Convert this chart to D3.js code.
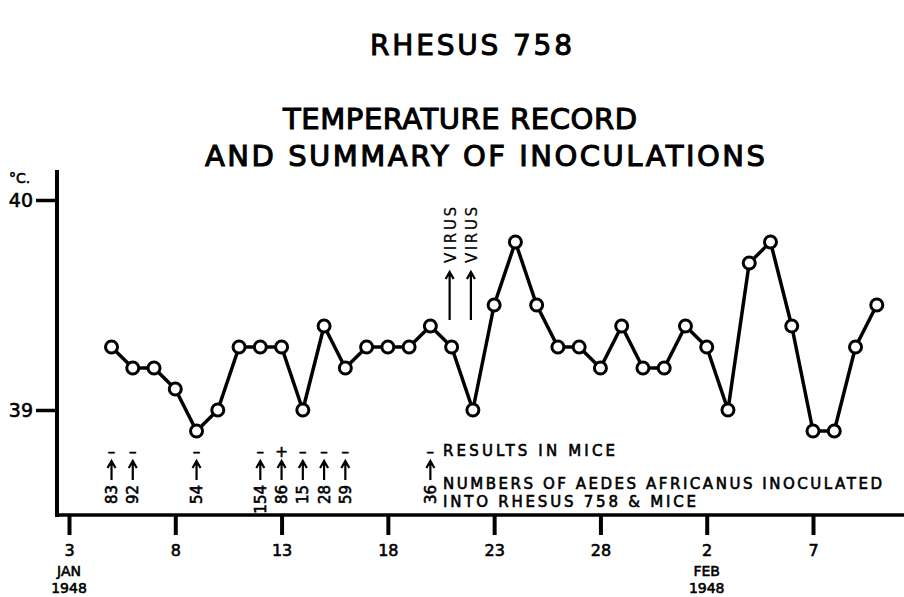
<!DOCTYPE html>
<html>
<head>
<meta charset="utf-8">
<script src="https://cdn.jsdelivr.net/npm/d3@7"></script>
<style>
  body { margin: 0; background: #fff; }
  svg { display: block; }
  text { font-family: "DejaVu Sans", sans-serif; fill: #000; stroke: #000; stroke-width: 0.6px; }
</style>
</head>
<body>
<div id="chart"></div>
<script>
// daily temperature of Rhesus 758, from 5 Jan 1948 to 10 Feb 1948 (deg C)
var temps = [39.3, 39.2, 39.2, 39.1, 38.9, 39.0, 39.3, 39.3, 39.3, 39.0,
             39.4, 39.2, 39.3, 39.3, 39.3, 39.4, 39.3, 39.0, 39.5, 39.8,
             39.5, 39.3, 39.3, 39.2, 39.4, 39.2, 39.2, 39.4, 39.3, 39.0,
             39.7, 39.8, 39.4, 38.9, 38.9, 39.3, 39.5]
var firstDay = new Date(1948, 0, 5)

// inoculations (day of january), numbers of mosquitoes, result in mice
var inocDays = [5, 6, 9, 12, 13, 14, 15, 16, 20]
var inocCounts = ["83", "92", "54", "154", "86", "15", "28", "59", "36"]
var inocResults = ["-", "-", "-", "-", "+", "-", "-", "-", "-"]
var virusDays = [21, 22]

// axis ticks
var tickDays = [3, 8, 13, 18, 23, 28, 33, 38]
var tickLabels = ["3", "8", "13", "18", "23", "28", "2", "7"]
var yTicks = [39, 40]

var width = 904, height = 597

var svg = d3.select("#chart").append("svg")
  .attr("width", width)
  .attr("height", height)

var jan = function(d) { return new Date(1948, 0, d) }

var x = d3.scaleTime()
  .domain([jan(3), jan(38)])
  .range([69, 813])

var y = d3.scaleLinear()
  .domain([39, 40])
  .range([410, 200])

var axisY = 515, axisX = 57

// upward arrow drawn from the bottom point, length len
var arrow = function(y0, len) {
  return "M0," + y0 + "V" + (y0 - len) +
    "M-4," + (y0 - len + 7) + "L0," + (y0 - len) + "L4," + (y0 - len + 7)
}

// text with spacing stretched to a given width
var label = function(t, x0, y0, size, len, anchor) {
  return svg.append("text").attr("x", x0).attr("y", y0)
    .attr("text-anchor", anchor || "start")
    .attr("font-size", size)
    .attr("textLength", len).attr("lengthAdjust", "spacing")
    .text(t)
}

// titles
label("RHESUS 758", 471, 55, 28, 202, "middle").style("stroke-width", "1px")
label("TEMPERATURE RECORD", 460, 129, 29, 354, "middle").style("stroke-width", "1.1px")
label("AND SUMMARY OF INOCULATIONS", 485, 166, 29, 560, "middle").style("stroke-width", "1.1px")

// y axis
svg.append("line")
  .attr("x1", axisX).attr("x2", axisX)
  .attr("y1", 170).attr("y2", axisY + 2)
  .attr("stroke", "#000").attr("stroke-width", 4)

var yAxis = d3.axisLeft(y).tickValues(yTicks).tickSize(21).tickPadding(3).tickFormat(d3.format("d"))
var gy = svg.append("g").attr("transform", "translate(" + axisX + ",0)").call(yAxis)
gy.select(".domain").remove()
gy.selectAll(".tick line").attr("stroke", "#000").attr("stroke-width", 3.5)
gy.selectAll(".tick text").attr("font-size", 19).attr("font-family", null)
  .attr("fill", "#000")

svg.append("text").attr("x", 9).attr("y", 183).attr("font-size", 14).text("°C.")

// x axis
svg.append("line")
  .attr("x1", axisX - 2).attr("x2", width)
  .attr("y1", axisY).attr("y2", axisY)
  .attr("stroke", "#000").attr("stroke-width", 3.5)

var xAxis = d3.axisBottom(x)
  .tickValues(tickDays.map(jan))
  .tickSize(20)
  .tickPadding(10)
  .tickFormat(function(d, i) { return tickLabels[i] })
var gx = svg.append("g").attr("transform", "translate(0," + axisY + ")").call(xAxis)
gx.select(".domain").remove()
gx.selectAll(".tick line").attr("stroke", "#000").attr("stroke-width", 4)
gx.selectAll(".tick text").attr("font-size", 16).attr("font-family", null)
  .attr("fill", "#000")

// month labels under the first tick of each month
var monthLabels = [{day: 3, lines: ["JAN", "1948"]}, {day: 33, lines: ["FEB", "1948"]}]
monthLabels.forEach(function(m) {
  m.lines.forEach(function(t, i) {
    svg.append("text").attr("x", x(jan(m.day))).attr("y", 576 + i * 17)
      .attr("text-anchor", "middle").attr("font-size", 14).text(t)
  })
})

// temperature line
var points = temps.map(function(t, i) {
  return {date: d3.timeDay.offset(firstDay, i), temp: t}
})

var line = d3.line()
  .x(function(d) { return x(d.date) })
  .y(function(d) { return y(d.temp) })

svg.append("path")
  .datum(points)
  .attr("d", line)
  .attr("fill", "none")
  .attr("stroke", "#000")
  .attr("stroke-width", 3.5)
  .attr("stroke-linejoin", "round")

svg.selectAll(".pt")
  .data(points)
  .enter().append("circle")
  .attr("class", "pt")
  .attr("cx", function(d) { return x(d.date) })
  .attr("cy", function(d) { return y(d.temp) })
  .attr("r", 6)
  .attr("fill", "#fff")
  .attr("stroke", "#000")
  .attr("stroke-width", 3)

// inoculations
var inoc = inocDays.map(function(d, i) {
  return {date: jan(d), count: inocCounts[i], result: inocResults[i]}
})

var g = svg.selectAll(".inoc").data(inoc).enter().append("g")
  .attr("class", "inoc")
  .attr("transform", function(d) { return "translate(" + x(d.date) + ",0)" })

g.append("text").attr("y", 457).attr("text-anchor", "middle")
  .attr("font-size", 15)
  .text(function(d) { return d.result === "+" ? "+" : "–" })

g.append("path").attr("d", arrow(480, 19))
  .attr("fill", "none").attr("stroke", "#000").attr("stroke-width", 2.2)

g.append("text")
  .attr("transform", "translate(5.5,485) rotate(-90)")
  .attr("text-anchor", "end")
  .attr("font-size", 15)
  .text(function(d) { return d.count })

// legend text
label("RESULTS IN MICE", 443, 456, 15, 172)
label("NUMBERS OF AEDES AFRICANUS INOCULATED", 443, 489, 15, 439)
label("INTO RHESUS 758 & MICE", 443, 507, 15, 253)

// virus inoculations
var vg = svg.selectAll(".virus").data(virusDays).enter().append("g")
  .attr("class", "virus")
  .attr("transform", function(d) { return "translate(" + (x(jan(d)) - 2) + ",0)" })

vg.append("path").attr("d", arrow(320, 48))
  .attr("fill", "none").attr("stroke", "#000").attr("stroke-width", 2.2)

vg.append("text")
  .attr("transform", "translate(6,263) rotate(-90)")
  .attr("font-size", 15)
  .attr("textLength", 56).attr("lengthAdjust", "spacing")
  .style("stroke-width", "0.2px")
  .text("VIRUS")
</script>
</body>
</html>
